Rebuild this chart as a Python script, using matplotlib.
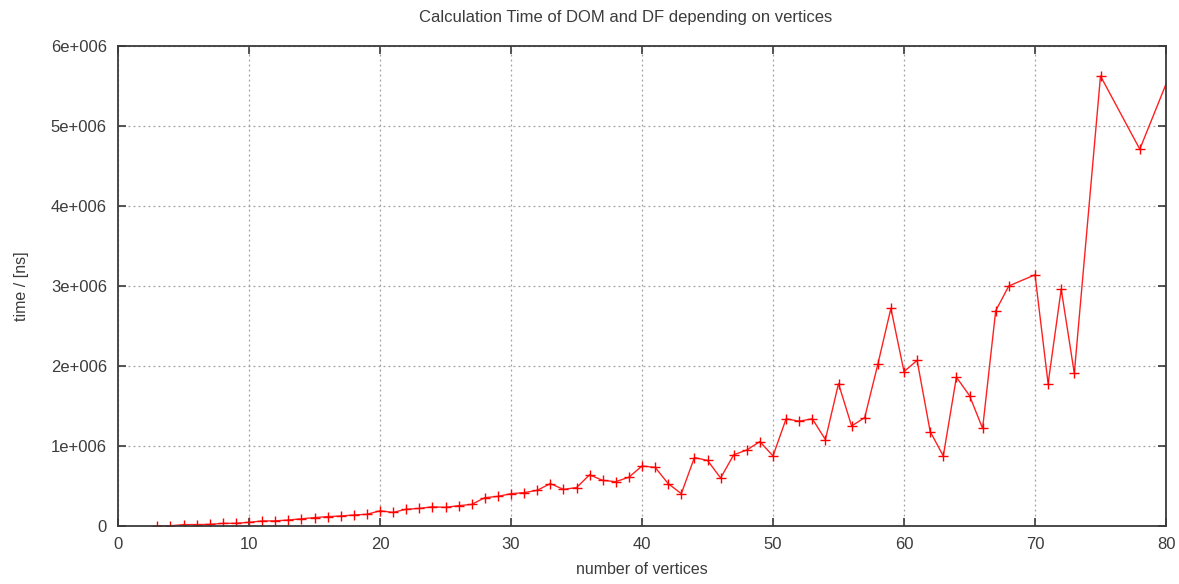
import matplotlib
matplotlib.use("Agg")
import matplotlib.pyplot as plt

# Number of vertices and measured calculation time (ns)
vertices = [3, 4, 5, 6, 7, 8, 9, 10, 11, 12, 13, 14, 15, 16, 17, 18, 19, 20,
            21, 22, 23, 24, 25, 26, 27, 28, 29, 30, 31, 32, 33, 34, 35, 36, 37,
            38, 39, 40, 41, 42, 43, 44, 45, 46, 47, 48, 49, 50, 51, 52, 53, 54,
            55, 56, 57, 58, 59, 60, 61, 62, 63, 64, 65, 66, 67, 68, 70, 71, 72,
            73, 75, 78, 81]
time_ns = [2e3, 3e3, 1.7e4, 1.8e4, 2.0e4, 3.3e4, 3.4e4, 4.6e4, 6.3e4, 6.4e4,
           7.5e4, 9.0e4, 1.05e5, 1.17e5, 1.25e5, 1.38e5, 1.46e5, 1.9e5, 1.7e5,
           2.1e5, 2.2e5, 2.4e5, 2.33e5, 2.54e5, 2.7e5, 3.54e5, 3.7e5, 4.04e5,
           4.17e5, 4.46e5, 5.3e5, 4.58e5, 4.8e5, 6.4e5, 5.7e5, 5.54e5, 6.1e5,
           7.5e5, 7.33e5, 5.3e5, 4.04e5, 8.55e5, 8.2e5, 6.0e5, 8.9e5, 9.5e5,
           1.055e6, 8.75e5, 1.34e6, 1.31e6, 1.34e6, 1.08e6, 1.78e6, 1.25e6,
           1.355e6, 2.02e6, 2.72e6, 1.93e6, 2.07e6, 1.18e6, 8.75e5, 1.86e6,
           1.63e6, 1.22e6, 2.69e6, 3.0e6, 3.14e6, 1.78e6, 2.96e6, 1.91e6,
           5.625e6, 4.71e6, 5.93e6]

x_ticks = [0, 10, 20, 30, 40, 50, 60, 70, 80]
y_ticks = [0, 1e6, 2e6, 3e6, 4e6, 5e6, 6e6]
y_tick_labels = ["0", "1e+006", "2e+006", "3e+006", "4e+006", "5e+006", "6e+006"]

plt.rcParams["font.family"] = ["Liberation Sans", "DejaVu Sans"]
text_color = "#3c3c3c"
frame_color = "#3a3a3a"

fig = plt.figure(figsize=(11.79, 5.84), dpi=100)
ax = fig.add_axes([118 / 1179, 58 / 584, 1048 / 1179, 480 / 584])

ax.plot(vertices, time_ns, color="#ff2020", linewidth=1.0,
        marker="+", markersize=6.5, markeredgewidth=1.0,
        markeredgecolor="#ff0000", clip_on=True)

ax.set_xlim(0, 80)
ax.set_ylim(0, 6e6)
ax.set_xticks(x_ticks)
ax.set_xticklabels([str(v) for v in x_ticks])
ax.set_yticks(y_ticks)
ax.set_yticklabels(y_tick_labels)

ax.grid(True, color="#a0a0a0", linestyle=(0, (1.5, 2.5)), linewidth=0.9)
ax.set_axisbelow(True)

for side in ax.spines.values():
    side.set_color(frame_color)
    side.set_linewidth(1.3)

ax.tick_params(axis="both", which="major", direction="in", length=6, width=1.2,
               color=frame_color, top=True, right=True,
               labelsize=12, labelcolor=text_color, pad=8)

ax.set_title("Calculation Time of DOM and DF depending on vertices",
             fontsize=12, color=text_color, pad=17, x=0.484)
ax.set_xlabel("number of vertices", fontsize=11.5, color=text_color, labelpad=7)
ax.set_ylabel("time / [ns]", fontsize=11.5, color=text_color, labelpad=16)

fig.savefig("out.png", dpi=100)
